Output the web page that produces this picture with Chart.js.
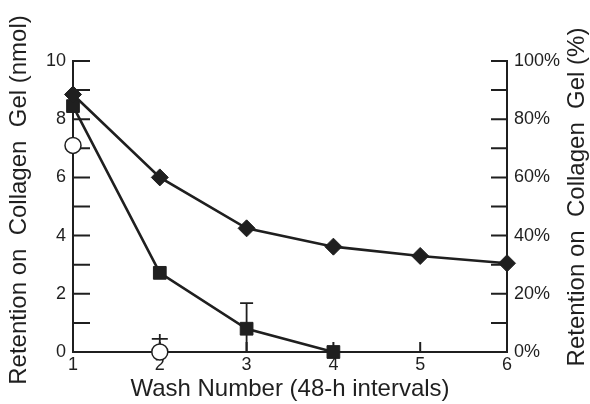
<!DOCTYPE html>
<html>
<head>
<meta charset="utf-8">
<script src="https://cdn.jsdelivr.net/npm/chart.js@4"></script>
<style>
  html, body { margin: 0; padding: 0; background: #fff; }
  #wrap { width: 590px; height: 404px; }
</style>
</head>
<body>
<div id="wrap"><canvas id="myChart" width="590" height="404"></canvas></div>
<script>
const washes = [1, 2, 3, 4, 5, 6];
const diamondNmol = [8.85, 6.0, 4.25, 3.62, 3.3, 3.05];
const squareNmol = [8.45, 2.72, 0.8, 0];
const circleNmol = [7.1, 0];
// error bar ends (upper, lower), null where none is drawn
const squareErrHigh = [null, null, 1.68, null];
const squareErrLow = [null, null, 0, null];
const circleErrHigh = [null, 0.45];
const circleErrLow = [null, 0];
const leftTitle = "Retention on  Collagen  Gel (nmol)";
const rightTitle = "Retention on  Collagen  Gel (%)";

const ink = "#1f1f1f";
const font = "'Liberation Sans', Arial, sans-serif";

const toPoints = (ys) => ys.map((y, i) => ({ x: washes[i], y }));

// ticks pointing into the plot, plus error bars
const marks = {
  id: "marks",
  beforeDatasetsDraw(chart) {
    const { ctx, chartArea: a, scales } = chart;
    ctx.save();
    ctx.strokeStyle = ink;
    ctx.lineWidth = 2;
    ctx.beginPath();
    scales.y.ticks.forEach((t) => {
      const py = scales.y.getPixelForValue(t.value);
      ctx.moveTo(a.left, py);
      ctx.lineTo(a.left + 17, py);
    });
    scales.y2.ticks.forEach((t) => {
      const py = scales.y2.getPixelForValue(t.value);
      ctx.moveTo(a.right, py);
      ctx.lineTo(a.right - 16, py);
    });
    scales.x.ticks.forEach((t) => {
      const px = scales.x.getPixelForValue(t.value);
      ctx.moveTo(px, a.bottom);
      ctx.lineTo(px, a.bottom - 10);
    });
    ctx.stroke();

    const bars = (hi, lo, cap, over) => {
      hi.forEach((h, i) => {
        if (h == null) return;
        const px = scales.x.getPixelForValue(washes[i]);
        const ph = scales.y.getPixelForValue(h);
        const pl = scales.y.getPixelForValue(lo[i]);
        ctx.beginPath();
        ctx.moveTo(px, pl);
        ctx.lineTo(px, ph - over);
        ctx.moveTo(px - cap, ph);
        ctx.lineTo(px + cap, ph);
        ctx.stroke();
      });
    };
    ctx.lineWidth = 1.8;
    bars(squareErrHigh, squareErrLow, 6.5, 0);
    bars(circleErrHigh, circleErrLow, 8, 5);
    ctx.restore();
  },
  afterDraw(chart) {
    const { ctx } = chart;
    ctx.save();
    ctx.fillStyle = ink;
    ctx.font = "24px " + font;
    ctx.textAlign = "center";
    ctx.textBaseline = "middle";
    [[leftTitle, 19, 200], [rightTitle, 577, 197]].forEach(([text, x, y]) => {
      ctx.save();
      ctx.translate(x, y);
      ctx.rotate(-Math.PI / 2);
      ctx.fillText(text, 0, 0);
      ctx.restore();
    });
    ctx.restore();
  },
};

const tickFont = { family: font, size: 18 };

const config = {
  type: "line",
  data: {
    datasets: [
      {
        label: "diamond",
        data: toPoints(diamondNmol),
        borderColor: ink,
        backgroundColor: ink,
        borderWidth: 2.6,
        pointStyle: "rectRot",
        pointRadius: 8.5,
        pointBorderWidth: 1,
        order: 1,
      },
      {
        label: "square",
        data: toPoints(squareNmol),
        borderColor: ink,
        backgroundColor: ink,
        borderWidth: 2.6,
        pointStyle: "rect",
        pointRadius: 9,
        pointBorderWidth: 1,
        order: 2,
      },
      {
        label: "circle",
        data: toPoints(circleNmol),
        showLine: false,
        borderColor: ink,
        backgroundColor: "#fff",
        pointStyle: "circle",
        pointRadius: 8,
        pointBorderWidth: 1.5,
        order: 3,
      },
    ],
  },
  options: {
    responsive: false,
    animation: false,
    clip: false,
    layout: { padding: { top: 61, left: 0, right: 0, bottom: 0 } },
    plugins: { legend: { display: false }, tooltip: { enabled: false } },
    scales: {
      x: {
        type: "linear",
        min: 1,
        max: 6,
        ticks: { stepSize: 1, color: ink, font: tickFont, padding: 2 },
        grid: { display: false, drawTicks: false },
        border: { display: true, color: ink, width: 2 },
        title: {
          display: true,
          text: "Wash Number (48-h intervals)",
          color: ink,
          font: { family: font, size: 24 },
          padding: { top: -2, bottom: 0 },
        },
        afterFit: (s) => { s.height = 52; },
      },
      y: {
        position: "left",
        min: 0,
        max: 10,
        ticks: {
          stepSize: 1,
          color: ink,
          font: tickFont,
          padding: 7,
          callback: (v) => (v % 2 === 0 ? v : ""),
        },
        grid: { display: false, drawTicks: false },
        border: { display: true, color: ink, width: 2 },
        afterFit: (s) => { s.width = 73; },
      },
      y2: {
        position: "right",
        min: 0,
        max: 100,
        ticks: {
          stepSize: 10,
          color: ink,
          font: tickFont,
          padding: 7,
          callback: (v) => (v % 20 === 0 ? v + "%" : ""),
        },
        grid: { display: false, drawTicks: false },
        border: { display: true, color: ink, width: 2 },
        afterFit: (s) => { s.width = 83; },
      },
    },
  },
  plugins: [marks],
};

new Chart(document.getElementById("myChart"), config);
</script>
</body>
</html>
